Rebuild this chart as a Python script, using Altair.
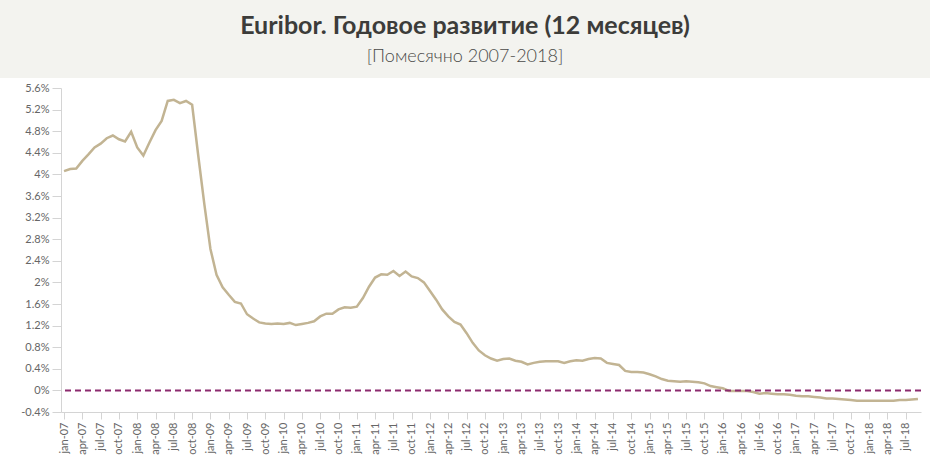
import altair as alt
import pandas as pd

# ---- data -------------------------------------------------------------
MONTHS = ["jan", "feb", "mar", "apr", "may", "jun", "jul", "aug", "sep", "oct", "nov", "dec"]
YEARS = ["07", "08", "09", "10", "11", "12", "13", "14", "15", "16", "17", "18"]

v2007 = [4.06, 4.10, 4.11, 4.25, 4.37, 4.50, 4.57, 4.67, 4.72, 4.65, 4.61, 4.79]
v2008 = [4.50, 4.35, 4.59, 4.82, 4.99, 5.36, 5.38, 5.32, 5.36, 5.29, 4.35, 3.45]
v2009 = [2.62, 2.14, 1.91, 1.77, 1.64, 1.61, 1.41, 1.33, 1.26, 1.24, 1.23, 1.24]
v2010 = [1.23, 1.25, 1.21, 1.23, 1.25, 1.28, 1.37, 1.42, 1.42, 1.50, 1.54, 1.53]
v2011 = [1.55, 1.71, 1.92, 2.09, 2.15, 2.14, 2.21, 2.12, 2.20, 2.11, 2.08, 2.00]
v2012 = [1.84, 1.68, 1.50, 1.37, 1.27, 1.22, 1.06, 0.88, 0.74, 0.65, 0.59, 0.55]
v2013 = [0.58, 0.59, 0.55, 0.53, 0.48, 0.51, 0.53, 0.54, 0.54, 0.54, 0.51, 0.54]
v2014 = [0.56, 0.55, 0.58, 0.60, 0.59, 0.51, 0.49, 0.47, 0.36, 0.34, 0.34, 0.33]
v2015 = [0.30, 0.26, 0.21, 0.18, 0.17, 0.16, 0.17, 0.16, 0.15, 0.13, 0.08, 0.06]
v2016 = [0.04, -0.01, -0.01, -0.01, -0.01, -0.03, -0.06, -0.05, -0.06, -0.07, -0.07, -0.08]
v2017 = [-0.10, -0.11, -0.11, -0.12, -0.13, -0.15, -0.15, -0.16, -0.17, -0.18, -0.19, -0.19]
v2018 = [-0.19, -0.19, -0.19, -0.19, -0.19, -0.18, -0.18, -0.17, -0.16]

values = v2007 + v2008 + v2009 + v2010 + v2011 + v2012 + v2013 + v2014 + v2015 + v2016 + v2017 + v2018
labels = [f"{m}-{y}" for y in YEARS for m in MONTHS][: len(values)]
tick_labels = labels[::3]
y_ticks = [-0.4, 0.0, 0.4, 0.8, 1.2, 1.6, 2.0, 2.4, 2.8, 3.2, 3.6, 4.0, 4.4, 4.8, 5.2, 5.6]

TITLE = "Euribor. Годовое развитие (12 месяцев)"
SUBTITLE = "[Помесячно 2007-2018]"

df = pd.DataFrame({"month": labels, "rate": values})

# ---- styling ----------------------------------------------------------
LINE_COLOR = "#c2b493"
ZERO_COLOR = "#8c2a6e"
AXIS_COLOR = "#d4d4d4"
LABEL_COLOR = "#666666"
HEADER_BG = "#f3f3ef"
FONT = "Lato"

W, H = 860, 324
PAD_L, PAD_T = 61, 88

x_enc = alt.X(
    "month:O",
    sort=None,
    scale=alt.Scale(type="point", padding=0.5),
    axis=alt.Axis(
        values=tick_labels,
        labelAngle=-90,
        labelAlign="right",
        labelBaseline="middle",
        labelOverlap=False,
        title=None,
        tickSize=7,
        labelPadding=3,
        labelFontSize=11,
    ),
)
y_enc = alt.Y(
    "rate:Q",
    scale=alt.Scale(domain=[-0.4, 5.6], nice=False, zero=False),
    axis=alt.Axis(
        values=y_ticks,
        labelExpr="replace(format(datum.value, '.1~f'), '−', '-') + '%'",
        labelOverlap=False,
        labelBound=False,
        title=None,
        tickSize=9,
        labelPadding=3,
        labelFontSize=11,
    ),
)

header = alt.Chart(pd.DataFrame({"a": [0]})).mark_rect(color=HEADER_BG).encode(
    x=alt.value(-PAD_L), x2=alt.value(930 - PAD_L), y=alt.value(-PAD_T), y2=alt.value(78 - PAD_T)
)

title = alt.Chart(pd.DataFrame({"t": [TITLE]})).mark_text(
    font=FONT, fontSize=25, fontWeight="bold", color="#3c3c3a", align="center", baseline="alphabetic"
).encode(text="t:N", x=alt.value(465 - PAD_L), y=alt.value(34 - PAD_T))

subtitle = alt.Chart(pd.DataFrame({"t": [SUBTITLE]})).mark_text(
    font=FONT, fontSize=18, fontWeight=300, color="#4a4a48", align="center", baseline="alphabetic"
).encode(text="t:N", x=alt.value(465 - PAD_L), y=alt.value(62 - PAD_T))

line = alt.Chart(df).mark_line(color=LINE_COLOR, strokeWidth=2.5).encode(x=x_enc, y=y_enc)

zero = alt.Chart(pd.DataFrame({"rate": [0.0]})).mark_rule(
    color=ZERO_COLOR, strokeWidth=2, strokeDash=[6, 4]
).encode(y=y_enc)

chart = (
    alt.layer(header, line, zero, title, subtitle)
    .properties(
        width=W,
        height=H,
        autosize=alt.AutoSizeParams(type="none"),
        padding={"left": PAD_L, "top": PAD_T, "right": 930 - PAD_L - W, "bottom": 463 - PAD_T - H},
        background="white",
    )
    .configure_view(stroke=None)
    .configure_axis(
        grid=False,
        domainColor=AXIS_COLOR,
        tickColor=AXIS_COLOR,
        labelColor=LABEL_COLOR,
        labelFont=FONT,
    )
)

chart.save("out.html", embed_options={"renderer": "svg", "actions": False})
